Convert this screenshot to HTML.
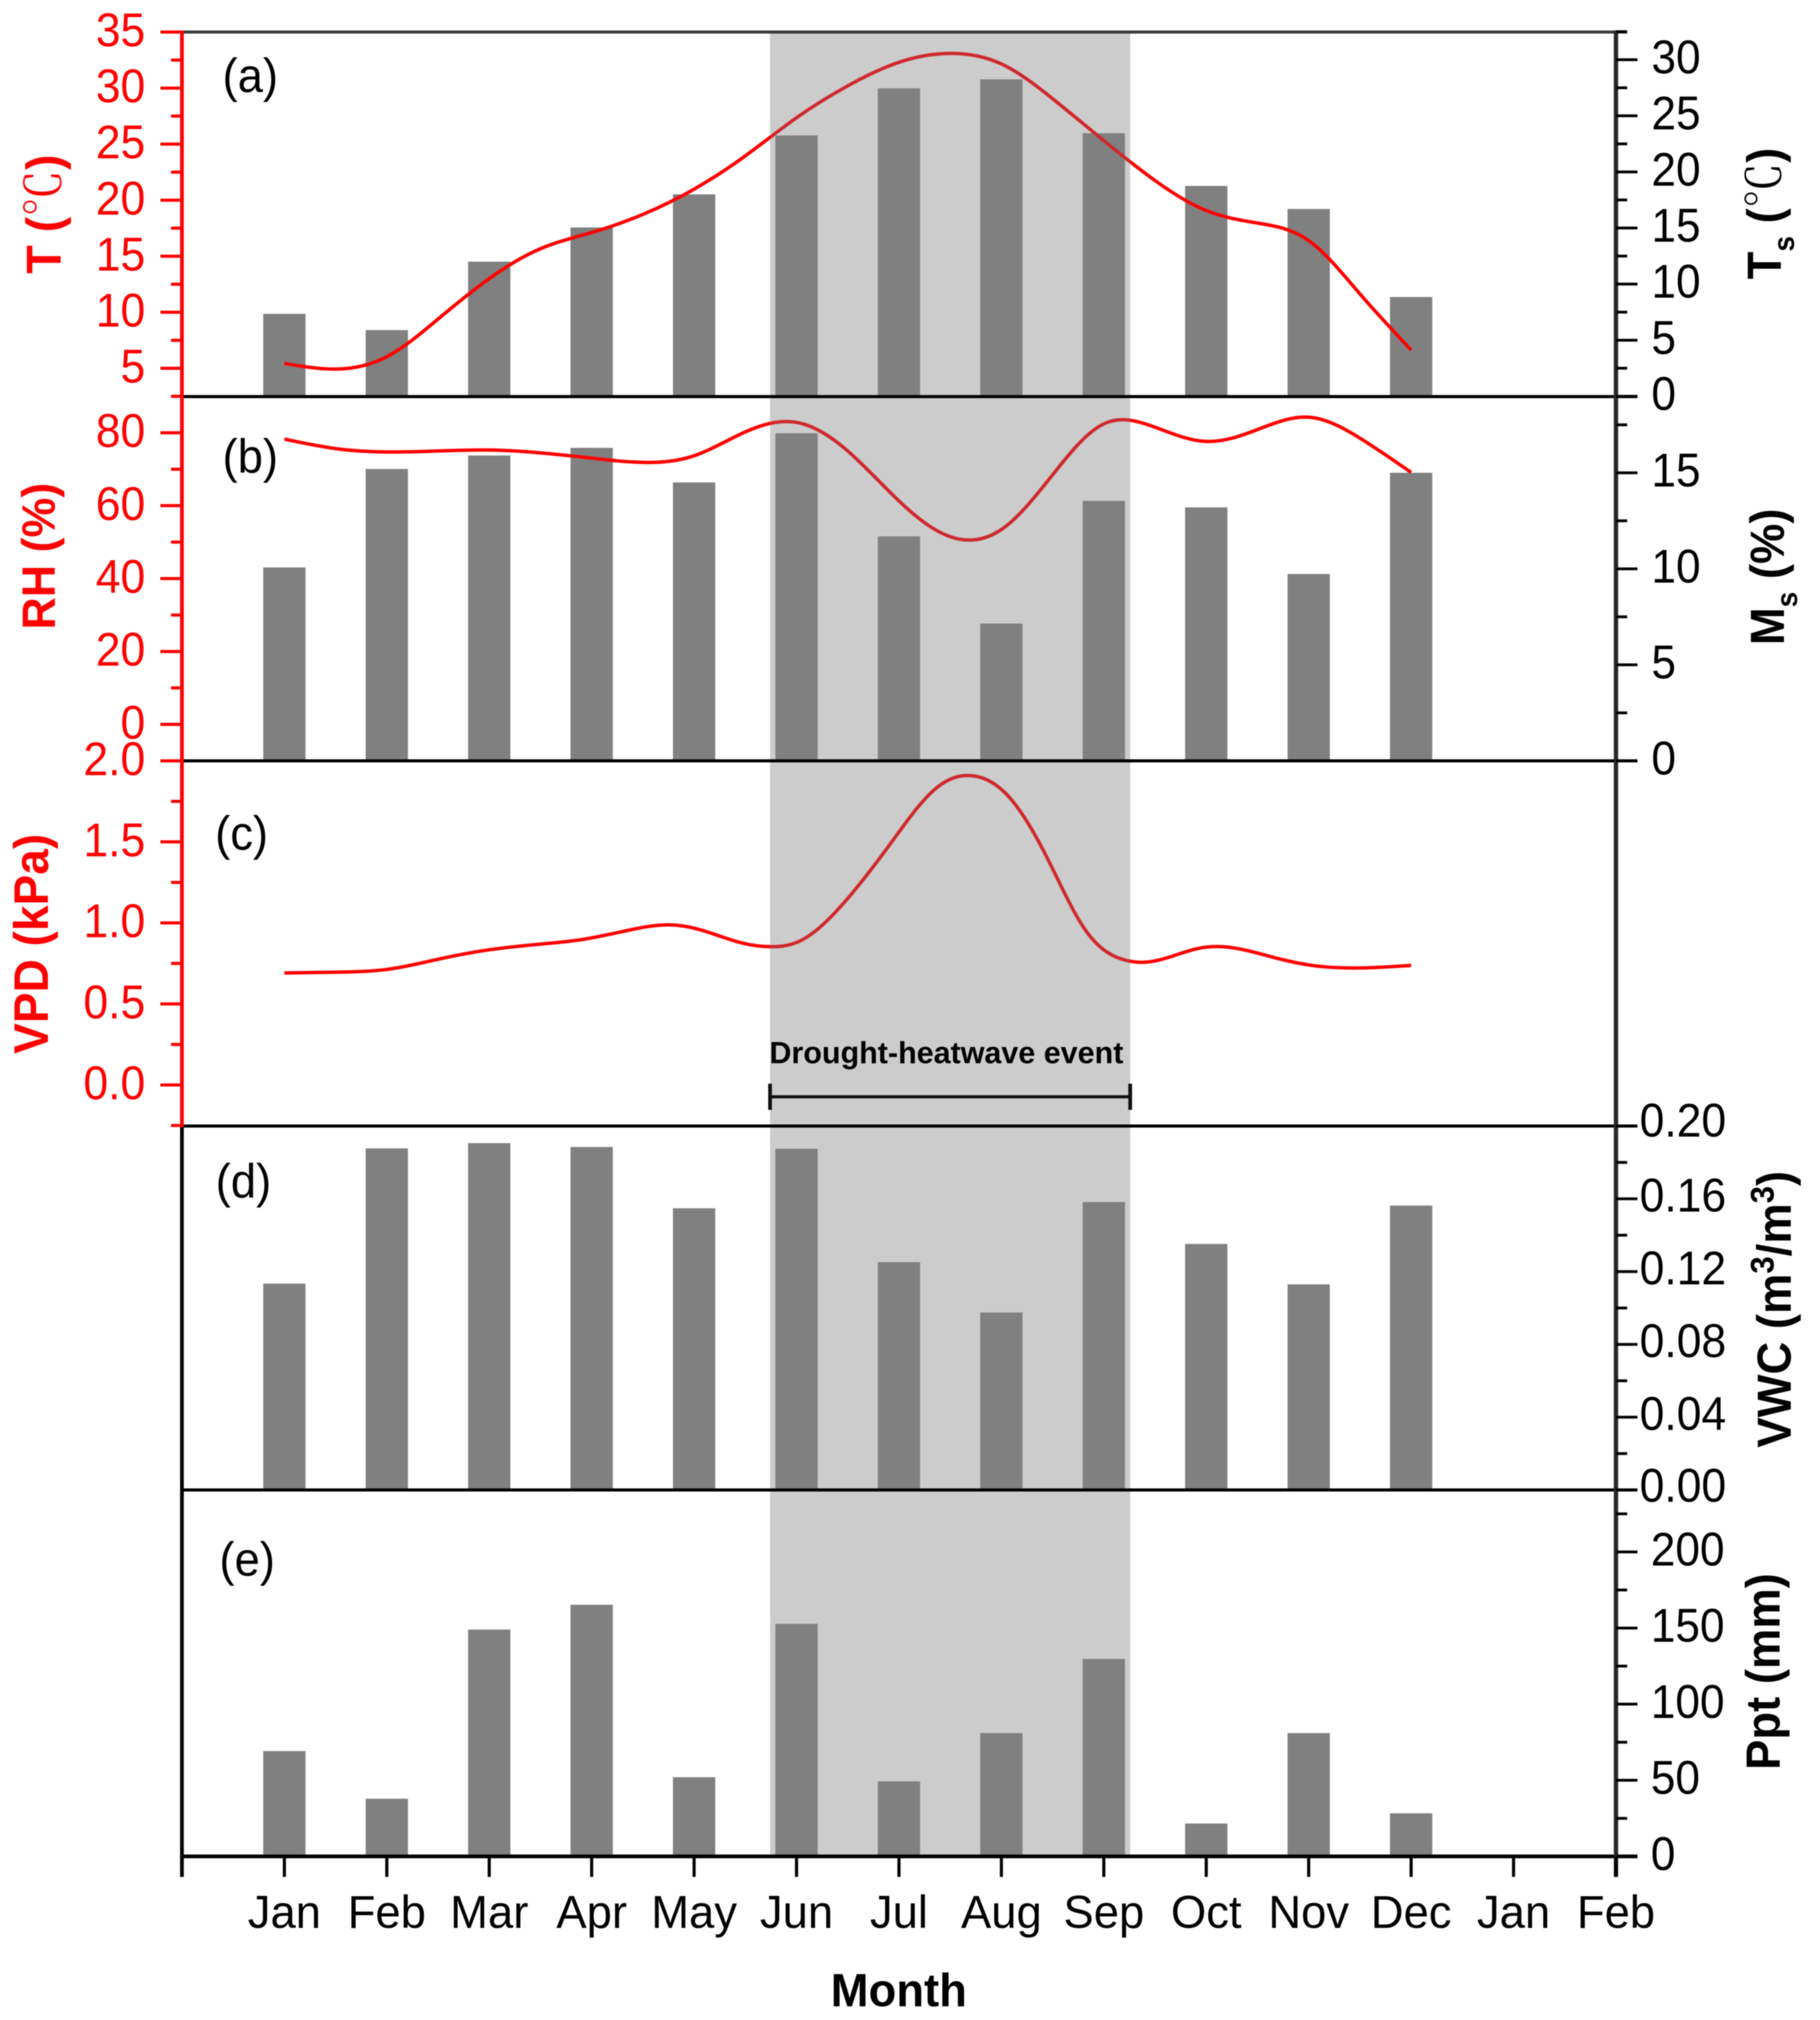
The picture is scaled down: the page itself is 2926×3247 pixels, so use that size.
<!DOCTYPE html>
<html lang="en">
<head>
<meta charset="utf-8">
<title>Monthly climate and soil conditions</title>
<style>
html,body{margin:0;padding:0;background:#fff;}
svg{display:block;filter:blur(0.8px);}
text{font-family:"Liberation Sans","Noto Sans CJK SC",sans-serif;}
.cjk{font-family:"Noto Serif CJK SC","Noto Sans CJK SC",serif;font-weight:400;}
</style>
</head>
<body>
<svg id="chart" xmlns="http://www.w3.org/2000/svg" width="2926" height="3247" viewBox="0 0 2926 3247">
  <defs>
    <linearGradient id="redShade" gradientUnits="userSpaceOnUse" x1="0" y1="0" x2="2926" y2="0">
      <stop offset="0" stop-color="#ff0000"/>
      <stop offset="0.4231" stop-color="#ff0000"/>
      <stop offset="0.4232" stop-color="#cf2a2e"/>
      <stop offset="0.6210" stop-color="#cf2a2e"/>
      <stop offset="0.6211" stop-color="#ff0000"/>
      <stop offset="1" stop-color="#ff0000"/>
    </linearGradient>
  </defs>
  <rect x="0" y="0" width="2926" height="3247" fill="#ffffff"/>
  <rect x="1238" y="51" width="579" height="2933" fill="#cccccc"/>
  <g id="bars"></g>
  <g id="lines"></g>
  <g id="axes"></g>
  <g id="labels"></g>

  <g font-size="73" fill="#000">
    <text text-anchor="end" transform="translate(447,148) scale(1,1.05)">(a)</text>
    <text text-anchor="end" transform="translate(447,760) scale(1,1.05)">(b)</text>
    <text text-anchor="end" transform="translate(431,1366) scale(1,1.05)">(c)</text>
    <text text-anchor="end" transform="translate(436,1925) scale(1,1.05)">(d)</text>
    <text text-anchor="end" transform="translate(442,2533) scale(1,1.05)">(e)</text>
  </g>

  <g font-size="73" font-weight="700">
    <text fill="#ff0000" font-size="75" transform="translate(97.5,440) rotate(-90) scale(1,1.05)" xml:space="preserve">T (<tspan class="cjk">℃</tspan>)</text>
    <text fill="#ff0000" font-size="72" transform="translate(88,1012) rotate(-90) scale(1,1.05)">RH (%)</text>
    <text fill="#ff0000" font-size="74" transform="translate(77,1694) rotate(-90) scale(1,1.05)">VPD (kPa)</text>
    <text fill="#000" transform="translate(2863,449) rotate(-90) scale(1,1.05)" xml:space="preserve">T<tspan font-size="45" dy="20">s</tspan><tspan dy="-20"> (</tspan><tspan class="cjk">℃</tspan>)</text>
    <text fill="#000" transform="translate(2868,1037) rotate(-90) scale(1,1.05)" xml:space="preserve">M<tspan font-size="45" dy="20">s</tspan><tspan dy="-20"> (%)</tspan></text>
    <text fill="#000" transform="translate(2879,2327) rotate(-90) scale(1,1.05)" xml:space="preserve">VWC (m<tspan font-size="50" dy="-26">3</tspan><tspan dy="26">/m</tspan><tspan font-size="50" dy="-26">3</tspan><tspan dy="26">)</tspan></text>
    <text fill="#000" transform="translate(2861,2845) rotate(-90) scale(1,1.05)">Ppt (mm)</text>
    <text fill="#000" font-size="73" text-anchor="middle" transform="translate(1445,3225) scale(1,1.03)">Month</text>
  </g>

  <g fill="none" stroke="#111" >
    <line x1="1238" y1="1763" x2="1817" y2="1763" stroke-width="5"/>
    <line x1="1238" y1="1742" x2="1238" y2="1784" stroke-width="6"/>
    <line x1="1817" y1="1742" x2="1817" y2="1784" stroke-width="6"/>
    <text x="1237" y="1709" font-size="49" font-weight="700" fill="#000" stroke="none">Drought-heatwave event</text>
  </g>
</svg>

<script>
// ---- Data ----
const months = [1, 2, 3, 4, 5, 6, 7, 8, 9, 10, 11, 12];
const monthTickLabels = ['Jan', 'Feb', 'Mar', 'Apr', 'May', 'Jun', 'Jul', 'Aug', 'Sep', 'Oct', 'Nov', 'Dec', 'Jan', 'Feb'];

const soilTemp = [7.35, 5.9, 12.0, 15.05, 18.0, 23.25, 27.45, 28.25, 23.45, 18.75, 16.7, 8.85];
const soilMoisture = [10.07, 15.2, 15.9, 16.3, 14.5, 17.06, 11.69, 7.15, 13.54, 13.2, 9.73, 15.0];
const vwcValues = [0.1134, 0.1877, 0.1906, 0.1885, 0.1548, 0.1875, 0.1252, 0.0975, 0.1582, 0.1352, 0.113, 0.1563];
const pptValues = [69.2, 37.9, 149, 165.3, 52, 152.8, 49.3, 81, 129.7, 21.6, 81, 28.3];

const halfMonths = [1, 1.5, 2, 2.5, 3, 3.5, 4, 4.5, 5, 5.5, 6, 6.5, 7, 7.5, 8, 8.5, 9, 9.5, 10, 10.5, 11, 11.5, 12];
const airTemp = [5.44, 4.93, 6.03, 9.39, 13.0, 15.67, 17.11, 18.73, 20.98, 23.95, 27.35, 30.2, 32.3, 33.09, 32.15, 29.05, 25.31, 21.75, 19.07, 17.96, 16.39, 11.64, 6.63];
const relHumidity = [78.26, 75.65, 74.73, 75.0, 75.26, 74.47, 73.04, 71.86, 73.69, 80.22, 82.83, 75.0, 61.28, 51.48, 53.45, 68.46, 82.44, 81.52, 77.61, 80.87, 84.27, 78.52, 69.11];

const vpdMonths = [1.0, 1.5, 2.0, 2.51, 3.0, 3.5, 3.91, 4.37, 4.76, 5.07, 5.45, 5.76, 6.0, 6.46, 6.93, 7.39, 7.7, 8.05, 8.44, 8.82, 9.21, 9.39, 9.64, 9.91, 10.16, 10.41, 10.72, 11.03, 11.49, 12.0];
const vpdValues = [0.691, 0.696, 0.713, 0.777, 0.834, 0.869, 0.898, 0.956, 0.988, 0.956, 0.879, 0.853, 0.879, 1.122, 1.5, 1.845, 1.909, 1.794, 1.41, 0.956, 0.77, 0.757, 0.789, 0.841, 0.853, 0.828, 0.777, 0.738, 0.722, 0.738];

const tempTicks = ['5', '10', '15', '20', '25', '30', '35'];
const tempMinorTicks = [2.5, 7.5, 12.5, 17.5, 22.5, 27.5, 32.5];
const rhTicks = ['0', '20', '40', '60', '80'];
const rhMinorTicks = [-10, 10, 30, 50, 70];
const vpdTicks = ['0.0', '0.5', '1.0', '1.5', '2.0'];
const vpdMinorTicks = [-0.25, 0.25, 0.75, 1.25, 1.75];
const soilTempTicks = ['0', '5', '10', '15', '20', '25', '30'];
const soilTempMinorTicks = [2.5, 7.5, 12.5, 17.5, 22.5, 27.5, 32.5];
const moistureTicks = ['0', '5', '10', '15'];
const moistureMinorTicks = [2.5, 7.5, 12.5, 17.5];
const vwcTicks = ['0.00', '0.04', '0.08', '0.12', '0.16', '0.20'];
const vwcMinorTicks = [0.02, 0.06, 0.1, 0.14, 0.18];
const pptTicks = ['0', '50', '100', '150', '200'];
const pptMinorTicks = [25, 75, 125, 175, 225];

// ---- Scales ----
const NS = 'http://www.w3.org/2000/svg';
function linear(d0, d1, r0, r1) {
  return function (v) { return r0 + (v - d0) * (r1 - r0) / (d1 - d0); };
}
const xScale = linear(0, 14, 292.5, 2598);
const yTemp = linear(5, 35, 592, 51.5);
const ySoilTemp = linear(0, 30, 637, 96);
const yRH = linear(0, 80, 1164.4, 695.6);
const yMoisture = linear(0, 15, 1223, 760);
const yVPD = linear(0, 2, 1744, 1223);
const yVWC = linear(0, 0.2, 2395, 1810);
const yPpt = linear(0, 200, 2984, 2494.6);

const LEFT = 292.5, RIGHT = 2598;
const barsLayer = document.getElementById('bars');
const linesLayer = document.getElementById('lines');
const axesLayer = document.getElementById('axes');
const labelsLayer = document.getElementById('labels');

function drawLine(x1, y1, x2, y2, color, width, name) {
  const el = document.createElementNS(NS, 'line');
  el.setAttribute('x1', x1);
  el.setAttribute('y1', y1);
  el.setAttribute('x2', x2);
  el.setAttribute('y2', y2);
  el.setAttribute('stroke', color);
  el.setAttribute('stroke-width', width);
  
  
  axesLayer.appendChild(el);
}

function drawLabel(txt, x, y, anchor, color, size, sy, name) {
  const el = document.createElementNS(NS, 'text');
  el.textContent = txt;
  el.setAttribute('transform', 'translate(' + x + ',' + y + ') scale(1,' + sy + ')');
  el.setAttribute('text-anchor', anchor);
  el.setAttribute('fill', color);
  el.setAttribute('font-size', size);
  
  
  labelsLayer.appendChild(el);
}

function drawBars(values, yScale, name) {
  values.forEach(function (v, i) {
    const y0 = yScale(0);
    const y1 = yScale(v);
    const r = document.createElementNS(NS, 'rect');
    r.setAttribute('x', xScale(months[i]) - 34);
    r.setAttribute('y', y1);
    r.setAttribute('width', 68);
    r.setAttribute('height', y0 - y1);
    r.setAttribute('fill', '#808080');
    
    
    barsLayer.appendChild(r);
  });
}

// Natural cubic spline slopes for smooth curves through the read points.
function splineSlopes(px, py) {
  const n = px.length;
  const h = [];
  for (let i = 0; i < n - 1; i++) h.push(px[i + 1] - px[i]);
  const c = new Array(n).fill(0);
  const r = new Array(n).fill(0);
  const M = new Array(n).fill(0);
  for (let i = 1; i < n - 1; i++) {
    const d = 6 * ((py[i + 1] - py[i]) / h[i] - (py[i] - py[i - 1]) / h[i - 1]);
    const b = 2 * (h[i - 1] + h[i]) - h[i - 1] * c[i - 1];
    c[i] = h[i] / b;
    r[i] = (d - h[i - 1] * r[i - 1]) / b;
  }
  for (let i = n - 2; i > 0; i--) M[i] = r[i] - c[i] * M[i + 1];
  const s = [];
  for (let i = 0; i < n - 1; i++) {
    s.push((py[i + 1] - py[i]) / h[i] - h[i] * (2 * M[i] + M[i + 1]) / 6);
  }
  s.push((py[n - 1] - py[n - 2]) / h[n - 2] + h[n - 2] * (M[n - 2] + 2 * M[n - 1]) / 6);
  return s;
}

function drawCurve(ms, values, yScale, name) {
  const px = ms.map(xScale);
  const py = values.map(yScale);
  const n = px.length;
  const slope = splineSlopes(px, py);
  let d = 'M' + px[0].toFixed(1) + ' ' + py[0].toFixed(1);
  for (let i = 0; i < n - 1; i++) {
    const h = (px[i + 1] - px[i]) / 3;
    d += 'C' + (px[i] + h).toFixed(1) + ' ' + (py[i] + slope[i] * h).toFixed(1) + ' ' +
      (px[i + 1] - h).toFixed(1) + ' ' + (py[i + 1] - slope[i + 1] * h).toFixed(1) + ' ' +
      px[i + 1].toFixed(1) + ' ' + py[i + 1].toFixed(1);
  }
  const p = document.createElementNS(NS, 'path');
  p.setAttribute('d', d);
  p.setAttribute('fill', 'none');
  p.setAttribute('stroke', 'url(#redShade)');
  p.setAttribute('stroke-width', 5.5);
  p.setAttribute('stroke-linejoin', 'round');
  
  
  linesLayer.appendChild(p);
}

function leftTicks(majors, minors, yScale, name) {
  majors.forEach(function (t) {
    const y = yScale(+t);
    drawLine(258, y, LEFT, y, '#ff0000', 5, name + '-major-tick');
    drawLabel(t, 233.5, y + 23, 'end', '#ff0000', 71.5, 1.07, name + '-tick-label');
  });
  minors.forEach(function (t) {
    const y = yScale(t);
    drawLine(275, y, LEFT, y, '#ff0000', 5, name + '-minor-tick');
  });
}

function rightTicks(majors, minors, yScale, name, labelX, size, labelDy) {
  majors.forEach(function (t) {
    const y = yScale(+t);
    drawLine(RIGHT, y, 2632.5, y, '#000', 4.5, name + '-major-tick');
    drawLabel(t, labelX, y + labelDy(t), 'start', '#000', size, 1.07, name + '-tick-label');
  });
  minors.forEach(function (t) {
    const y = yScale(t);
    drawLine(RIGHT, y, 2616, y, '#000', 4.5, name + '-minor-tick');
  });
}

function commonDy() { return 22; }
function vwcDy(t) { return t === '0.20' ? 17 : (t === '0.00' ? 19 : 20.5); }

// ---- Marks ----
drawBars(soilTemp, ySoilTemp, 'soil-temperature');
drawBars(soilMoisture, yMoisture, 'soil-moisture');
drawBars(vwcValues, yVWC, 'vwc');
drawBars(pptValues, yPpt, 'precipitation');

drawCurve(halfMonths, airTemp, yTemp, 'air-temperature-line');
drawCurve(halfMonths, relHumidity, yRH, 'relative-humidity-line');
drawCurve(vpdMonths, vpdValues, yVPD, 'vpd-line');

// ---- Panel frames ----
drawLine(258, 51.5, 2616, 51.5, '#3d3d3d', 5, 'top-border');
drawLine(LEFT, 637.5, 2632.5, 637.5, '#000', 5, 'panel-a-b-divider');
drawLine(LEFT, 1223, 2632.5, 1223, '#000', 5, 'panel-b-c-divider');
drawLine(LEFT, 1810, 2632.5, 1810, '#000', 5, 'panel-c-d-divider');
drawLine(LEFT, 2395, 2632.5, 2395, '#000', 5, 'panel-d-e-divider');
drawLine(LEFT, 2984, 2632.5, 2984, '#000', 6, 'x-axis-line');

drawLine(LEFT, 1810, LEFT, 3017, '#000', 6, 'left-axis-lower');
drawLine(LEFT, 49, LEFT, 1812, '#ff0000', 6, 'left-axis-red');
drawLine(RIGHT, 49, RIGHT, 3017, '#2a2a2a', 7, 'right-axis');

// ---- Ticks ----
leftTicks(tempTicks, tempMinorTicks, yTemp, 'air-temperature-axis');
leftTicks(rhTicks, rhMinorTicks, yRH, 'relative-humidity-axis');
leftTicks(vpdTicks, vpdMinorTicks, yVPD, 'vpd-axis');

rightTicks(soilTempTicks, soilTempMinorTicks, ySoilTemp, 'soil-temperature-axis', 2655, 71, commonDy);
rightTicks(moistureTicks, moistureMinorTicks, yMoisture, 'soil-moisture-axis', 2655, 71, commonDy);
rightTicks(vwcTicks, vwcMinorTicks, yVWC, 'vwc-axis', 2636, 71.5, vwcDy);
rightTicks(pptTicks, pptMinorTicks, yPpt, 'precipitation-axis', 2654, 71, commonDy);

drawLine(LEFT, 2984, LEFT, 3017, '#000', 5, 'x-axis-origin-tick');
monthTickLabels.forEach(function (label, i) {
  const x = xScale(i + 1);
  drawLine(x, 2984, x, 3017, '#000', 5, 'x-axis-tick');
  drawLabel(label, x, 3099, 'middle', '#000', 73, 1.02, 'x-axis-tick-label');
});
</script>
</body>
</html>
